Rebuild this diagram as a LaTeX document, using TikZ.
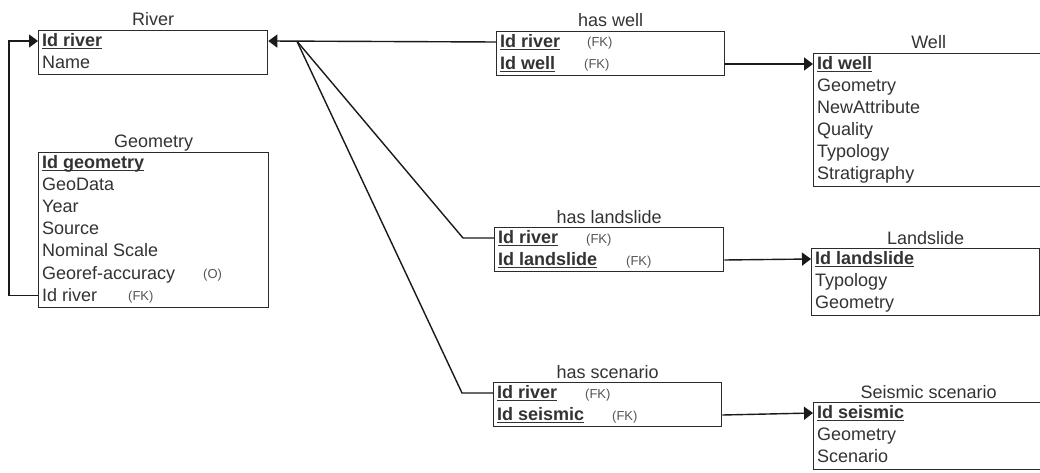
\documentclass[tikz,border=0pt]{standalone}
\usepackage{fontspec}
\setmainfont{Liberation Sans}
\usetikzlibrary{arrows.meta}
\definecolor{txt}{HTML}{333333}
\definecolor{brd}{HTML}{2B2B2B}
\definecolor{fkc}{HTML}{555555}
\definecolor{lnk}{HTML}{1A1A1A}
\newcommand\keyu[1]{\setbox0=\hbox{\bfseries #1}\rlap{\rule[-2.3pt]{\wd0}{1.2pt}}\box0}
\begin{document}
\begin{tikzpicture}[x=1pt,y=-1pt,
  tbl/.style={draw=brd, line width=1.3pt, fill=white, inner sep=0pt, anchor=north west},
  ttl/.style={text=txt, font=\fontsize{18}{20}\selectfont, inner sep=0pt, anchor=base},
  row/.style={text=txt, font=\fontsize{18}{20}\selectfont, inner sep=0pt, anchor=west, text height=15pt, text depth=4pt},
  fk/.style={text=fkc, font=\fontsize{13}{15}\selectfont, inner sep=0pt, anchor=west, text height=14pt, text depth=4pt},
  link/.style={draw=lnk, line width=1.4pt},
  arr/.style={link, -{Triangle[length=9pt,width=13pt]}},
]
\useasboundingbox[fill=white] (0,0) rectangle (1040,473);

% tables
\node[tbl, minimum width=229pt, minimum height=44pt] (river) at (38,30) {};
\node[tbl, minimum width=230pt, minimum height=155pt] (geo) at (38,152) {};
\node[tbl, minimum width=228pt, minimum height=44pt] (hw) at (496,31) {};
\node[tbl, minimum width=230pt, minimum height=133pt] (well) at (813,53) {};
\node[tbl, minimum width=229pt, minimum height=44pt] (hl) at (494,227) {};
\node[tbl, minimum width=228pt, minimum height=67pt] (ls) at (811,248) {};
\node[tbl, minimum width=228pt, minimum height=44pt] (hs) at (493,382) {};
\node[tbl, minimum width=230pt, minimum height=67pt] (ss) at (813,402) {};

% titles
\node[ttl] (rivert) at ([yshift=4pt]river.north) {River};
\node[ttl] (geot) at ([yshift=4pt]geo.north) {Geometry};
\node[ttl] (hwt) at ([yshift=4pt]hw.north) {has well};
\node[ttl] (wellt) at ([yshift=4pt]well.north) {Well};
\node[ttl] (hlt) at ([yshift=4pt]hl.north) {has landslide};
\node[ttl] (lst) at ([yshift=4pt]ls.north) {Landslide};
\node[ttl] (hst) at ([yshift=4pt]hs.north) {has scenario};
\node[ttl] (sst) at ([yshift=4pt]ss.north) {Seismic scenario};

% rows: River
\node[row] (river0) at ([xshift=4pt,yshift=-11pt]river.north west) {\keyu{Id river}};
\node[row] (river1) at ([xshift=4pt,yshift=-33pt]river.north west) {Name};
% rows: Geometry
\node[row] (geo0) at ([xshift=4pt,yshift=-11pt]geo.north west) {\keyu{Id geometry}};
\node[row] (geo1) at ([xshift=4pt,yshift=-33.1pt]geo.north west) {GeoData};
\node[row] (geo2) at ([xshift=4pt,yshift=-55.2pt]geo.north west) {Year};
\node[row] (geo3) at ([xshift=4pt,yshift=-77.3pt]geo.north west) {Source};
\node[row] (geo4) at ([xshift=4pt,yshift=-99.4pt]geo.north west) {Nominal Scale};
\node[row] (geo5) at ([xshift=4pt,yshift=-121.5pt]geo.north west) {Georef-accuracy};
\node[row] (geo6) at ([xshift=4pt,yshift=-143.6pt]geo.north west) {Id river};
\node[fk] (geo5o) at ([xshift=161pt]geo5.west) {(O)};
\node[fk] (geo6fk) at ([xshift=86pt]geo6.west) {(FK)};
% rows: has well
\node[row] (hw0) at ([xshift=4pt,yshift=-11pt]hw.north west) {\keyu{Id river}};
\node[row] (hw1) at ([xshift=4pt,yshift=-33pt]hw.north west) {\keyu{Id well}};
\node[fk] (hw0fk) at ([xshift=87pt]hw0.west) {(FK)};
\node[fk] (hw1fk) at ([xshift=84pt]hw1.west) {(FK)};
% rows: Well
\node[row] (well0) at ([xshift=4pt,yshift=-11pt]well.north west) {\keyu{Id well}};
\node[row] (well1) at ([xshift=4pt,yshift=-33pt]well.north west) {Geometry};
\node[row] (well2) at ([xshift=4pt,yshift=-55pt]well.north west) {NewAttribute};
\node[row] (well3) at ([xshift=4pt,yshift=-77pt]well.north west) {Quality};
\node[row] (well4) at ([xshift=4pt,yshift=-99pt]well.north west) {Typology};
\node[row] (well5) at ([xshift=4pt,yshift=-121pt]well.north west) {Stratigraphy};
% rows: has landslide
\node[row] (hl0) at ([xshift=4pt,yshift=-11pt]hl.north west) {\keyu{Id river}};
\node[row] (hl1) at ([xshift=4pt,yshift=-33pt]hl.north west) {\keyu{Id landslide}};
\node[fk] (hl0fk) at ([xshift=88pt]hl0.west) {(FK)};
\node[fk] (hl1fk) at ([xshift=128pt]hl1.west) {(FK)};
% rows: Landslide
\node[row] (ls0) at ([xshift=4pt,yshift=-11pt]ls.north west) {\keyu{Id landslide}};
\node[row] (ls1) at ([xshift=4pt,yshift=-33pt]ls.north west) {Typology};
\node[row] (ls2) at ([xshift=4pt,yshift=-55pt]ls.north west) {Geometry};
% rows: has scenario
\node[row] (hs0) at ([xshift=4pt,yshift=-11pt]hs.north west) {\keyu{Id river}};
\node[row] (hs1) at ([xshift=4pt,yshift=-33pt]hs.north west) {\keyu{Id seismic}};
\node[fk] (hs0fk) at ([xshift=88pt]hs0.west) {(FK)};
\node[fk] (hs1fk) at ([xshift=115pt]hs1.west) {(FK)};
% rows: Seismic scenario
\node[row] (ss0) at ([xshift=4pt,yshift=-11pt]ss.north west) {\keyu{Id seismic}};
\node[row] (ss1) at ([xshift=4pt,yshift=-33pt]ss.north west) {Geometry};
\node[row] (ss2) at ([xshift=4pt,yshift=-55pt]ss.north west) {Scenario};

% connector helpers
\coordinate (lb) at (9,41);
\coordinate (jn) at (297,41.3);
\coordinate (hlb) at (463,0);
\coordinate (hsb) at (462,0);

% connectors
\draw[arr] (geo.west |- geo6) -| (lb) -- (river.west |- river0);
\draw[arr] (hw.west |- hw0) -- (river.east |- river0);
\draw[link] (hl.west |- hl0) -- (hlb |- hl0) -- (jn);
\draw[link] (hs.west |- hs0) -- (hsb |- hs0) -- (jn);
\draw[arr] (hw.east |- hw1) -- (well.west |- well0);
\draw[arr] (hl.east |- hl1) -- (ls.west |- ls0);
\draw[arr] (hs.east |- hs1) -- (ss.west |- ss0);
\end{tikzpicture}
\end{document}
